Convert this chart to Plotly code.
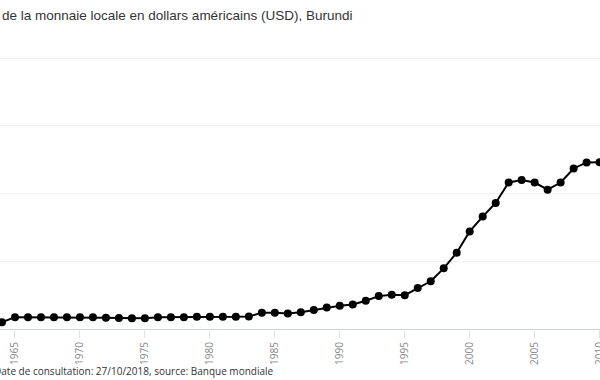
import plotly.graph_objects as go

years = list(range(1963, 2012))
values = [50.0, 50.0, 87.5, 87.5, 87.5, 87.5, 87.5, 87.5, 87.4, 82.4, 80.7, 78.8, 78.8,
          86.3, 86.3, 86.3, 90.0, 90.0, 90.0, 90.0, 93.0, 119.7, 120.7, 114.2, 123.6,
          140.4, 158.7, 171.3, 181.5, 208.3, 242.8, 252.7, 249.8, 302.7, 352.4, 447.8,
          563.6, 720.7, 830.4, 930.7, 1082.6, 1100.9, 1081.6, 1028.7, 1081.9, 1185.7,
          1230.2, 1230.7, 1261.1]
tick_years = list(range(1965, 2015, 5))
grid_values = [500, 1000, 1500, 2000]

title_text = "de la monnaie locale en dollars américains (USD), Burundi"
footer_text = "Date de consultation: 27/10/2018, source: Banque mondiale"

fig = go.Figure()
fig.add_trace(go.Scatter(
    x=years, y=values, mode="lines+markers",
    line=dict(color="#000000", width=2),
    marker=dict(color="#000000", size=8),
    cliponaxis=False, hoverinfo="x+y", showlegend=False,
))

plot_h = 380 - 56 - 51
fig.update_layout(
    width=600, height=380,
    margin=dict(l=0, r=0, t=56, b=51, pad=0, autoexpand=False),
    paper_bgcolor="#ffffff", plot_bgcolor="#ffffff",
    xaxis=dict(
        range=[1965 - 15 / 13, 2010.03], tickvals=tick_years,
        ticktext=[str(y) for y in tick_years],
        tickangle=-90, ticks="outside", ticklen=8, tickcolor="#dde3ee",
        showline=True, linecolor="#ccd6eb", linewidth=1,
        showgrid=False, zeroline=False, automargin=False,
        ticklabeloverflow="allow",
        tickfont=dict(family="Open Sans", size=10, color="#888888"),
        fixedrange=True,
    ),
    yaxis=dict(
        range=[0, plot_h / 0.1354], tickvals=grid_values, showticklabels=False,
        showgrid=True, gridcolor="#f0f0f0", gridwidth=1, automargin=False,
        zeroline=False, showline=False, fixedrange=True,
    ),
    annotations=[
        dict(text=title_text, xref="paper", yref="paper", x=0, xanchor="left",
             y=1 + (56 - 15) / plot_h, yanchor="middle", showarrow=False,
             font=dict(family="Liberation Sans", size=13.5, color="#333333")),
        dict(text=footer_text, xref="paper", yref="paper", x=-8.5 / 600, xanchor="left",
             y=-(371 - 329) / plot_h, yanchor="middle", showarrow=False,
             font=dict(family="Open Sans", size=10, color="#333333")),
    ],
)

fig.write_html("out.html", config={"displayModeBar": False},
               post_script="document.body.style.margin='0';")
